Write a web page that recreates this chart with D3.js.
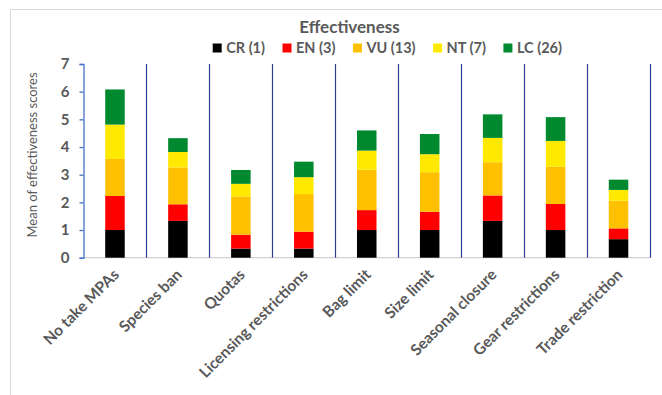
<!DOCTYPE html>
<html>
<head>
<meta charset="utf-8">
<script src="https://cdn.jsdelivr.net/npm/d3@7"></script>
<style>
  html, body { margin: 0; padding: 0; background: #fff; }
  svg { display: block; font-family: Lato, "Open Sans", sans-serif; }
</style>
</head>
<body>
<svg id="chart" width="662" height="395"></svg>
<script>
// Management measures along the x axis
const categories = ["No take MPAs", "Species ban", "Quotas", "Licensing restrictions",
  "Bag limit", "Size limit", "Seasonal closure", "Gear restrictions", "Trade restriction"];

// IUCN status groups (number of species in brackets)
const seriesNames = ["CR (1)", "EN (3)", "VU (13)", "NT (7)", "LC (26)"];
const seriesColors = ["#000000", "#ff0000", "#ffc000", "#ffe900", "#00892f"];

// Mean effectiveness score for each group, per measure
const crValues = [1.00, 1.33, 0.33, 0.33, 1.00, 1.00, 1.33, 1.00, 0.67];
const enValues = [1.23, 0.60, 0.50, 0.61, 0.72, 0.66, 0.92, 0.94, 0.39];
const vuValues = [1.34, 1.33, 1.38, 1.36, 1.46, 1.43, 1.20, 1.35, 1.00];
const ntValues = [1.24, 0.56, 0.46, 0.61, 0.69, 0.65, 0.88, 0.93, 0.39];
const lcValues = [1.27, 0.50, 0.50, 0.56, 0.73, 0.73, 0.85, 0.86, 0.37];

const yTicks = [0, 1, 2, 3, 4, 5, 6, 7];

const chartTitle = "Effectiveness";
const yTitle = "Mean of effectiveness scores";

const textColor = "#595959";

// table of rows for d3.stack
const keys = ["CR", "EN", "VU", "NT", "LC"];
const columns = [crValues, enValues, vuValues, ntValues, lcValues];
const rows = categories.map((c, i) => {
  const r = { category: c };
  keys.forEach((k, j) => { r[k] = columns[j][i]; });
  return r;
});

const svg = d3.select("#chart");

// chart frame
svg.append("rect")
  .attr("x", 10.5).attr("y", 9.5)
  .attr("width", 700).attr("height", 500)
  .attr("fill", "none").attr("stroke", "#d9d9d9").attr("stroke-width", 1);

const plot = { left: 83.5, right: 650, top: 64, bottom: 257.7 };

const x = d3.scaleBand()
  .domain(categories)
  .range([plot.left, plot.right])
  .paddingInner(0.69)
  .paddingOuter(0.345);

const y = d3.scaleLinear()
  .domain([0, 7])
  .range([plot.bottom, plot.top]);

// baseline
svg.append("line")
  .attr("x1", plot.left).attr("x2", plot.right)
  .attr("y1", y(0)).attr("y2", y(0))
  .attr("stroke", "#d0d0d0").attr("stroke-width", 1.2);

// category separators
const step = x.step();
svg.append("g").selectAll("line")
  .data(d3.range(1, categories.length + 1))
  .join("line")
  .attr("x1", i => Math.round(plot.left + i * step) + 0.5)
  .attr("x2", i => Math.round(plot.left + i * step) + 0.5)
  .attr("y1", y(7)).attr("y2", y(0))
  .attr("stroke", "#2e3f8f").attr("stroke-width", 1.2);

// stacked bars
const stacked = d3.stack().keys(keys)(rows);
svg.append("g").selectAll("g")
  .data(stacked)
  .join("g")
  .attr("fill", (d, i) => seriesColors[i])
  .selectAll("rect")
  .data(d => d)
  .join("rect")
  .attr("x", d => x(d.data.category))
  .attr("width", x.bandwidth())
  .attr("y", d => y(d[1]))
  .attr("height", d => y(d[0]) - y(d[1]));

// y axis
const yAxis = svg.append("g")
  .attr("transform", `translate(${plot.left},0)`)
  .call(d3.axisLeft(y).tickValues(yTicks).tickFormat(d3.format("d"))
    .tickSize(4).tickSizeOuter(4).tickPadding(10));
yAxis.select(".domain").attr("stroke", "#4472c4").attr("stroke-width", 1.3);
yAxis.selectAll(".tick line").attr("stroke", "#4472c4").attr("stroke-width", 1.3);
yAxis.selectAll(".tick text")
  .attr("fill", textColor)
  .style("font-family", "Lato, sans-serif")
  .style("font-size", "15px")
  .style("font-weight", "bold");

// x labels
svg.append("g").selectAll("text")
  .data(categories)
  .join("text")
  .attr("transform", d => `translate(${x(d) + x.bandwidth() / 2 + 5},${plot.bottom + 18}) rotate(-45)`)
  .attr("text-anchor", "end")
  .attr("fill", textColor)
  .style("font-size", "15.5px")
  .style("font-weight", "bold")
  .text(d => d);

// y title
svg.append("text")
  .attr("transform", `translate(37,155) rotate(-90)`)
  .attr("text-anchor", "middle")
  .attr("fill", textColor)
  .style("font-size", "13px")
  .text(yTitle);

// chart title
svg.append("text")
  .attr("x", 349.5).attr("y", 33)
  .attr("text-anchor", "middle")
  .attr("fill", textColor)
  .style("font-size", "17px")
  .style("font-weight", "bold")
  .text(chartTitle);

// legend
const legend = svg.append("g");
let lx = 212.7;
seriesNames.forEach((name, i) => {
  legend.append("rect")
    .attr("x", lx).attr("y", 43.5)
    .attr("width", 9).attr("height", 9)
    .attr("fill", seriesColors[i]);
  const t = legend.append("text")
    .attr("x", lx + 13.5).attr("y", 53)
    .attr("fill", textColor)
    .style("font-size", "14.5px")
    .style("font-weight", "bold")
    .text(name);
  lx += 13.5 + t.node().getComputedTextLength() + 17.5;
});
</script>
</body>
</html>
